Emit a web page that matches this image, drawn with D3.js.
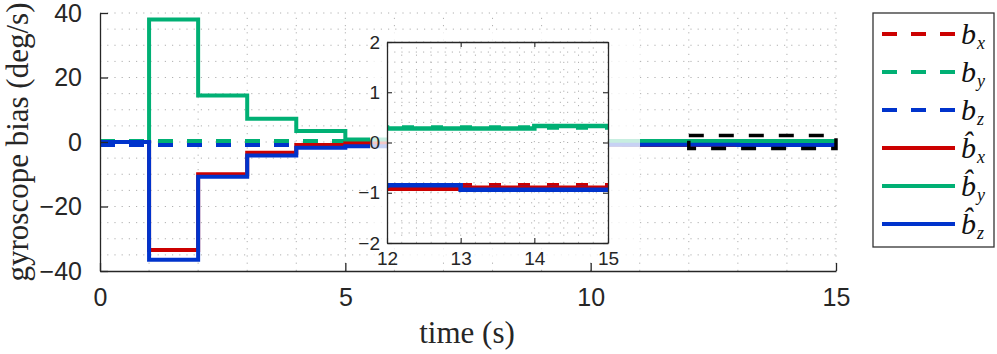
<!DOCTYPE html>
<html>
<head>
<meta charset="utf-8">
<style>
  body { margin: 0; background: #fff; }
  svg { display: block; }
  .tick text { font-family: "Liberation Sans", Arial, sans-serif; fill: #262626; }
  .tick line, .domain { stroke: #262626; }
</style>
</head>
<body>
<div id="chart"></div>
<script src="https://cdn.jsdelivr.net/npm/d3@7"></script>
<script>
// interval start times (s), each estimate holds its value until the next second
var times = [0, 1, 2, 3, 4, 5, 6, 7, 8, 9, 10, 11, 12, 13, 14];
var tEnd = 15;

// true gyroscope biases (deg/s)
var bx = -0.85;
var by = 0.3;
var bz = -0.9;

// estimated biases per 1 s interval (deg/s)
var bxHat = [0, -33.5, -10, -3.3, -0.9, -0.3, -0.6, -0.7, -0.8, -0.85, -0.88, -0.9, -0.92, -0.9, -0.9];
var byHat = [0, 38, 14.4, 7.2, 3.4, 0.8, 0.55, 0.45, 0.4, 0.35, 0.32, 0.3, 0.28, 0.28, 0.33];
var bzHat = [0, -36.5, -10.8, -4.2, -1.8, -1.3, -1.0, -0.95, -0.9, -0.88, -0.87, -0.86, -0.85, -0.94, -0.94];

var xTicks = [0, 5, 10, 15];
var yTicks = [-40, -20, 0, 20, 40];
var insetXTicks = [12, 13, 14, 15];
var insetYTicks = [-2, -1, 0, 1, 2];
var zoomBox = { t0: 12, t1: 15, v0: -2, v1: 2 };

var red = "#cc0000", green = "#00b074", blue = "#0033cc";

var series = [
  { name: "bx", hat: false, sub: "x", color: red,   truth: bx },
  { name: "by", hat: false, sub: "y", color: green, truth: by },
  { name: "bz", hat: false, sub: "z", color: blue,  truth: bz },
  { name: "bxh", hat: true, sub: "x", color: red,   vals: bxHat },
  { name: "byh", hat: true, sub: "y", color: green, vals: byHat },
  { name: "bzh", hat: true, sub: "z", color: blue,  vals: bzHat }
];

function pointsOf(s) {
  if (!s.hat) return [{ t: 0, v: s.truth }, { t: tEnd, v: s.truth }];
  var p = times.map(function (t, i) { return { t: t, v: s.vals[i] }; });
  p.push({ t: tEnd, v: s.vals[s.vals.length - 1] });
  return p;
}

var width = 997, height = 354;
var svg = d3.select("#chart").append("svg")
  .attr("width", width).attr("height", height);

// ---------- main axes ----------
var x = d3.scaleLinear().domain([0, 15]).range([100, 836]);
var y = d3.scaleLinear().domain([-40, 40]).range([271, 13]);

var main = svg.append("g");

function grid(g, xs, ys, xv, yv) {
  g.selectAll(".gx").data(xv).enter().append("line")
    .attr("x1", function (d) { return xs(d); }).attr("x2", function (d) { return xs(d); })
    .attr("y1", ys.range()[0]).attr("y2", ys.range()[1])
    .attr("stroke", "#b0b0b0").attr("stroke-width", 1).attr("stroke-dasharray", "1.2,6");
  g.selectAll(".gy").data(yv).enter().append("line")
    .attr("y1", function (d) { return ys(d); }).attr("y2", function (d) { return ys(d); })
    .attr("x1", xs.range()[0]).attr("x2", xs.range()[1])
    .attr("stroke", "#b0b0b0").attr("stroke-width", 1).attr("stroke-dasharray", "1.2,6");
}
grid(main, x, y, d3.range(1, 16, 1), d3.range(-35, 41, 5));

var line = d3.line().x(function (d) { return x(d.t); }).y(function (d) { return y(d.v); })
  .curve(d3.curveStepAfter);

main.selectAll(".ser").data(series).enter().append("path")
  .attr("d", function (s) { return line(pointsOf(s)); })
  .attr("fill", "none")
  .attr("stroke", function (s) { return s.color; })
  .attr("stroke-width", 4)
  .attr("stroke-dasharray", function (s) { return s.hat ? null : "15,14"; });

// dashed zoom region
main.append("rect")
  .attr("x", x(zoomBox.t0)).attr("y", y(zoomBox.v1))
  .attr("width", x(zoomBox.t1) - x(zoomBox.t0))
  .attr("height", y(zoomBox.v0) - y(zoomBox.v1))
  .attr("fill", "none").attr("stroke", "#000").attr("stroke-width", 3.5)
  .attr("stroke-dasharray", "15,15");

var ax = main.append("g").attr("transform", "translate(0," + y(-40) + ")")
  .call(d3.axisBottom(x).tickValues(xTicks).tickSizeInner(-8).tickSizeOuter(0).tickPadding(17));
var ay = main.append("g").attr("transform", "translate(" + x(0) + ",0)")
  .call(d3.axisLeft(y).tickValues(yTicks).tickSizeInner(-8).tickSizeOuter(0).tickPadding(18));
[ax, ay].forEach(function (g) {
  g.selectAll("text").style("font-size", "25px");
  g.select(".domain").attr("stroke-width", 1.3);
  g.selectAll(".tick line").attr("stroke-width", 1.3);
});

// axis titles
svg.append("text")
  .attr("x", 467).attr("y", 343)
  .attr("text-anchor", "middle")
  .style("font-family", "'Liberation Serif', 'Times New Roman', serif")
  .style("font-size", "31px").attr("fill", "#262626")
  .text("time (s)");
svg.append("text")
  .attr("transform", "translate(28,142) rotate(-90)")
  .attr("text-anchor", "middle")
  .style("font-family", "'Liberation Serif', 'Times New Roman', serif")
  .style("font-size", "31px").attr("fill", "#262626")
  .text("gyroscope bias (deg/s)");

// ---------- inset ----------
var xi = d3.scaleLinear().domain([12, 15]).range([387, 608]);
var yi = d3.scaleLinear().domain([-2, 2]).range([243, 42]);

svg.append("rect")
  .attr("x", 370).attr("y", 30).attr("width", 270).attr("height", 232)
  .attr("fill", "#fff").attr("opacity", 0.78);

var inset = svg.append("g");
inset.append("clipPath").attr("id", "insetClip").append("rect")
  .attr("x", 387).attr("y", 42).attr("width", 221).attr("height", 201);

inset.append("rect").attr("x", 387).attr("y", 42).attr("width", 221).attr("height", 201)
  .attr("fill", "#fff");
grid(inset, xi, yi, d3.range(12.2, 15.01, 0.2), d3.range(-1.8, 2.01, 0.2));

var lineI = d3.line().x(function (d) { return xi(d.t); }).y(function (d) { return yi(d.v); })
  .curve(d3.curveStepAfter);
inset.append("g").attr("clip-path", "url(#insetClip)")
  .selectAll("path").data(series).enter().append("path")
  .attr("d", function (s) { return lineI(pointsOf(s)); })
  .attr("fill", "none")
  .attr("stroke", function (s) { return s.color; })
  .attr("stroke-width", 4.5)
  .attr("stroke-dasharray", function (s) { return s.hat ? null : "12,17"; });

var fmt = d3.format("d");
var ixB = inset.append("g").attr("transform", "translate(0," + yi(-2) + ")")
  .call(d3.axisBottom(xi).tickValues(insetXTicks).tickFormat(fmt).tickSizeInner(-5).tickSizeOuter(0).tickPadding(9));
var ixT = inset.append("g").attr("transform", "translate(0," + yi(2) + ")")
  .call(d3.axisTop(xi).tickValues(insetXTicks).tickSizeInner(-5).tickSizeOuter(0).tickFormat(""));
var iyL = inset.append("g").attr("transform", "translate(" + xi(12) + ",0)")
  .call(d3.axisLeft(yi).tickValues(insetYTicks).tickFormat(fmt).tickSizeInner(-5).tickSizeOuter(0).tickPadding(7));
var iyR = inset.append("g").attr("transform", "translate(" + xi(15) + ",0)")
  .call(d3.axisRight(yi).tickValues(insetYTicks).tickSizeInner(-5).tickSizeOuter(0).tickFormat(""));
[ixB, ixT, iyL, iyR].forEach(function (g) {
  g.selectAll("text").style("font-size", "19px");
  g.select(".domain").attr("stroke-width", 1.3);
  g.selectAll(".tick line").attr("stroke-width", 1.1);
});

// ---------- legend ----------
var leg = svg.append("g");
leg.append("rect")
  .attr("x", 873).attr("y", 13).attr("width", 121).attr("height", 234)
  .attr("fill", "#fff").attr("stroke", "#333").attr("stroke-width", 1.3);

var rowY = d3.scalePoint().domain(series.map(function (s) { return s.name; }))
  .range([34, 224]);

var items = leg.selectAll(".item").data(series).enter().append("g")
  .attr("transform", function (s) { return "translate(0," + rowY(s.name) + ")"; });
items.append("line")
  .attr("x1", 882).attr("x2", 955).attr("y1", 0).attr("y2", 0)
  .attr("stroke", function (s) { return s.color; }).attr("stroke-width", 4)
  .attr("stroke-dasharray", function (s) { return s.hat ? null : "15,14"; });
var lab = items.append("text")
  .attr("x", 961).attr("y", 10)
  .style("font-family", "'Liberation Serif', 'Times New Roman', serif")
  .style("font-style", "italic").attr("fill", "#111");
lab.append("tspan").style("font-size", "30px")
  .text(function (s) { return s.hat ? "b\u0302" : "b"; });
lab.append("tspan").attr("dy", 5).attr("dx", 1).style("font-size", "18px")
  .text(function (s) { return s.sub; });
</script>
</body>
</html>
